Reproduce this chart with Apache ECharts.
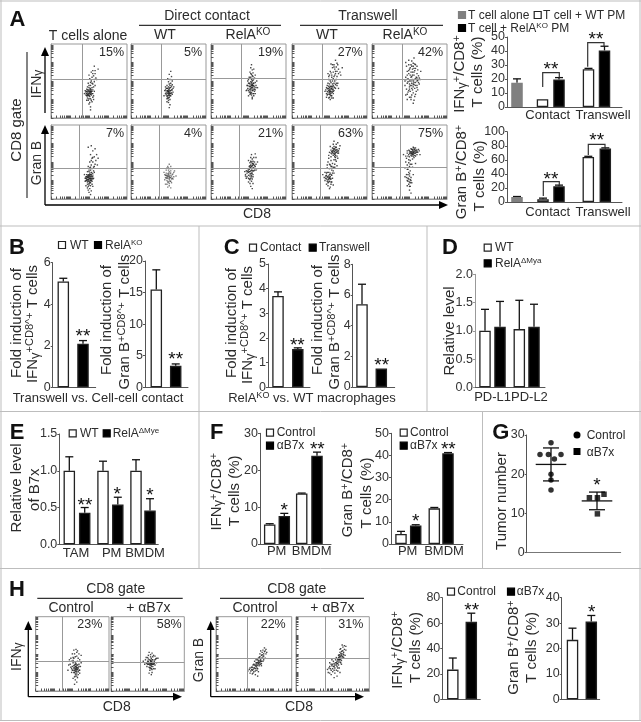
<!DOCTYPE html>
<html><head><meta charset="utf-8">
<style>html,body{margin:0;padding:0;background:#fff}#c{width:641px;height:722px}</style>
<script src="https://cdn.jsdelivr.net/npm/echarts@6/dist/echarts.min.js"></script>
</head><body><div id="c"></div>
<script>
// ---------- bar data ----------
const aIfnVals=[17.3,5.5,19.7,27,40.4], aIfnErrs=[2.8,0,1.3,0.6,3];
const aGranVals=[7,4,22.5,64,76], aGranErrs=[0.8,1.5,1.5,1,1];
const bIfnVals=[5.1,2.1], bIfnErrs=[0.15,0.15];
const bGranVals=[15.5,3.4], bGranErrs=[3.1,0.3];
const cIfnVals=[3.7,1.55], cIfnErrs=[0.17,0.05];
const cGranVals=[5.4,1.2], cGranErrs=[1.3,0];
const dVals=[1.0,1.07,1.03,1.07], dErrs=[0.38,0.45,0.51,0.4];
const eVals=[1.0,0.43,1.0,0.54,1.0,0.46], eErrs=[0.19,0.07,0.13,0.1,0.15,0.16];
const fIfnVals=[5.3,7.6,13.7,23.9], fIfnErrs=[0.2,0.7,0.1,1];
const fGranVals=[4.5,8.3,16.1,41], fGranErrs=[1.2,0.4,0.4,0.3];
const hIfnVals=[23.4,61], hIfnErrs=[9.1,6.8];
const hGranVals=[23.4,30.6], hGranErrs=[4.6,2.4];
// ---------- tumor numbers ----------
const gControl=[28,25,25,25,23.9,20,18.5,16];
const gB7x=[14,14,14.9,9.9];
const gMeans=[22.5,13.2], gSds=[4.2,2.25];
// ---------- flow cytometry events, read as % of the plot box (x,y pairs) ----------
const fA1=[51,35,49,33,52,36,50,37,53,34,48,35,52,32,50,31,54,36,47,33,49,38,51,39,53,38,46,36,55,33,48,30,51,29,50,41,54,41,47,39,52,44,55,46,49,47,56,42,53,50,51,53,57,49,54,55,50,58,56,57,53,62,58,60,55,64,59,54,52,26,49,24,54,22,50,19,52,15,48,27,46,31,45,37,57,36,58,44,60,52,62,66,57,70,52,11,55,28,50,34,52,38,48,32,51,36,53,31,
 49,36,51,33,47,36,50,30,53,36,48,38,52,34,46,34,49,31,54,33,52,40,50,44,55,38,47,30,56,30,44,33,57,52,52,48,54,47,48,42,58,64,55,60,50,26,53,24,47,24,51,21,56,25];
const fA2=[50,36,49,34,51,38,52,35,48,37,50,33,53,37,47,35,51,31,49,40,52,41,46,33,54,34,50,42,48,29,53,30,51,28,47,40,55,38,49,27,52,25,50,24,54,43,48,44,51,46,53,47,50,49,55,50,52,52,49,53,54,56,51,59,53,63,50,21,52,18,48,22,51,14,56,35,45,37,44,30,57,42,50,35,51,35,49,37,52,33,
 50,31,52,37,48,33,49,36,51,40,53,33,47,31,54,38,46,38,50,38,52,30,48,40,51,33,49,30,55,32,53,41,50,27,52,44,48,26,46,42,56,40,55,45];
const fA3=[55,45,53,43,56,47,54,48,57,44,52,46,55,41,53,40,58,42,51,43,56,51,54,52,57,39,52,38,59,48,50,47,55,37,53,35,58,36,51,35,56,33,54,31,57,30,52,32,55,28,49,40,60,44,48,44,53,55,56,56,58,54,51,55,54,59,56,61,52,62,55,65,53,68,57,66,54,72,50,52,61,50,62,41,47,37,59,33,55,26,50,30,55,44,54,46,56,42,53,49,55,50,
 54,44,56,44,52,42,57,47,53,38,55,39,51,39,58,39,49,44,54,41,52,35,56,37,50,37,54,34,59,38,60,41,48,38,57,33,53,33,51,47,57,53,49,50,55,57,53,60,59,58];
const fA4=[53,40,51,38,54,42,52,36,50,41,55,39,49,37,53,35,51,43,48,39,55,44,57,41,52,33,50,34,47,36,54,46,49,43,56,37,46,41,51,31,48,32,53,30,50,28,46,33,55,33,58,45,60,44,47,44,54,50,57,50,51,50,59,52,53,55,56,56,49,52,58,60,60,63,55,62,52,61,50,58,57,66,54,68,59,69,61,72,56,72,52,73,62,60,65,58,48,60,67,68,58,78,46,28,51,25,55,27,62,40,53,39,52,40,51,36,50,38,
 54,38,52,42,50,36,49,40,51,34,53,43,55,36,48,35,56,42,47,40,54,35,50,32,52,30,45,38,58,40,59,47,44,36,61,47,56,47,50,46,48,47,52,48,55,53,60,56,57,58,53,58,51,63,58,63,56,69,62,66,64,62,54,72,60,74,49,56,47,31,49,27,53,27];
const fA5=[55,50,53,47,57,52,52,55,56,45,50,50,58,48,54,58,51,44,59,55,48,53,55,42,53,40,57,40,50,39,60,44,47,47,61,51,49,60,52,62,56,62,60,60,54,66,50,66,58,67,47,63,62,57,45,55,55,70,52,72,49,72,57,73,60,70,46,70,53,77,49,78,56,81,45,75,51,36,55,34,48,35,59,36,46,39,53,31,57,29,50,28,45,31,61,38,52,25,56,24,47,25,55,20,63,46,44,44,65,63,
 54,52,52,50,56,48,53,44,58,53,50,46,48,49,60,50,54,62,57,64,51,68,55,74,58,72,53,70,49,64,47,58,44,50,46,52,62,48,63,54,61,65,58,44,50,42,49,37,54,38,58,32,47,32,52,28,60,41,64,52,53,56,56,58,60,54,55,46,51,58,56,67];
const fB1=[51,28,49,26,52,30,50,32,53,27,48,29,51,24,49,31,53,33,47,27,52,22,50,21,54,30,47,33,48,23,55,27,51,35,46,30,50,37,53,36,48,37,55,34,46,25,52,18,49,17,54,20,51,14,48,15,53,11,50,9,52,6,45,28,44,33,56,38,54,41,51,42,57,44,49,44,53,46,58,47,55,50,51,50,59,52,54,55,57,57,52,60,60,60,55,65,58,68,53,72,49,70,62,55,61,46,50,28,52,27,49,29,51,31,48,26,52,25,
 50,30,52,28,49,24,51,33,48,31,53,25,47,25,54,28,50,26,46,28,52,33,49,33,51,22,53,31,55,31,47,30,48,20,54,24,50,19,45,24,56,28,52,39,54,35,57,36,50,39,52,43,56,43,53,52,55,56,49,12,46,18,55,17];
const fB2=[51,30,49,28,52,32,50,33,53,29,48,31,51,26,49,34,53,35,47,28,52,24,50,23,54,31,47,35,48,25,55,28,51,37,46,32,50,39,53,38,48,20,54,22,51,18,49,16,53,15,56,34,45,26,44,36,57,30,50,42,53,44,48,42,55,41,51,47,58,38,60,31,46,20,
 50,31,52,29,49,31,51,28,48,29,50,35,52,35,47,32,54,27,46,29,53,24,55,33,49,23,51,21,56,27,45,33,57,36,47,39,52,41,49,44];
const fB3=[54,39,52,37,55,41,53,43,56,38,51,40,54,35,52,34,57,42,50,36,55,45,53,46,57,47,51,44,58,39,49,41,54,32,52,31,56,33,50,32,53,28,55,27,51,27,48,35,59,44,47,38,54,50,56,51,58,50,52,49,55,54,53,56,57,56,50,52,60,47,61,41,46,33,54,24,52,21,50,23,56,21,53,17,55,14,60,56,62,50,59,61,54,60,47,28,45,37,
 53,38,55,38,52,42,56,42,54,44,51,37,57,38,53,34,50,39,55,35,49,37,56,46,58,45,52,45,48,38,54,30,56,30,50,28,52,26,48,30,46,31,60,39,55,48,53,51,56,48];
const fB4=[57,64,55,62,58,66,56,67,59,63,54,65,57,60,55,59,60,67,53,61,58,70,56,71,61,62,52,66,54,69,60,58,58,56,52,57,62,65,50,63,63,68,55,74,59,74,51,71,56,78,64,72,61,76,52,52,56,53,59,51,49,55,54,48,57,47,51,46,60,45,48,50,55,43,50,41,53,39,47,42,46,35,50,28,48,26,51,30,49,31,52,27,47,30,50,24,53,32,46,27,48,22,51,35,45,31,53,23,49,36,44,25,47,36,52,20,48,18,51,16,46,20,54,28,43,29,56,35,41,33,55,19,50,14,
 57,62,56,65,58,62,55,65,59,66,57,68,54,63,60,64,56,61,58,59,53,64,61,65,57,57,55,68,52,62,62,62,59,70,50,29,49,27,51,27,48,29,50,33,52,33,47,24,49,23,45,28,46,32,52,23,54,35,47,46,52,44,57,43,50,47,49,59,61,55,58,53,44,36,55,38,53,44];
const fB5=[55,63,53,62,56,64,57,62,54,65,52,63,55,60,58,65,53,67,56,67,59,63,51,64,54,60,57,59,60,66,50,62,52,68,58,69,55,70,61,63,49,66,60,60,62,67,47,62,53,58,50,57,56,56,48,58,54,54,51,52,46,55,49,49,53,47,47,46,50,44,45,50,44,42,48,40,51,38,49,36,46,33,50,31,48,28,51,26,47,25,50,23,52,29,49,20,51,17,47,18,53,22,50,12,48,33,44,30,55,33,52,8,54,43,58,48,42,60,64,60,
 55,65,54,62,56,62,53,64,57,65,52,61,55,62,58,62,54,67,56,69,51,62,59,66,53,61,57,67,50,65,60,64,55,58,52,59,58,58,49,60,47,65,63,65,45,58,49,53,51,47,47,40,50,34,48,24,49,27,51,22,46,29,50,17,52,25];
const fH1=[55,30,53,28,56,32,54,33,57,29,52,31,55,26,53,35,57,35,51,28,56,24,54,23,58,31,50,33,52,25,59,28,55,37,49,30,54,39,57,40,51,38,59,36,49,25,56,20,53,19,58,22,54,15,51,17,56,12,53,9,47,36,46,42,48,44,51,45,54,46,58,44,60,42,50,50,53,50,56,52,59,50,52,55,55,56,57,54,62,48,44,28,61,33,55,31,54,29,56,29,53,31,
 55,33,57,31,54,27,56,27,53,25,58,26,52,34,55,22,50,28,59,33,56,35,54,36,48,32,51,41,49,40,60,28,52,44,56,47,57,18,54,20,45,35,62,38,60,24];
const fH2=[55,37,53,35,56,39,54,40,57,36,52,38,55,33,53,42,57,42,51,36,58,38,54,31,59,40,50,40,52,32,60,35,55,44,49,37,54,46,57,46,51,43,61,43,49,33,56,29,53,28,58,30,62,38,47,42,46,36,48,45,51,48,54,49,58,48,60,47,52,52,56,51,64,44,56,25,52,24,55,22,44,40,60,30,55,38,54,37,
 55,35,56,36,54,35,53,38,57,38,55,40,52,36,54,41,58,36,51,40,56,42,59,37,50,36,53,31,57,33,60,42,55,30,48,38,62,44,50,45];
const fH3=[56,37,54,34,57,39,55,35,58,38,53,33,56,41,52,30,59,42,54,38,50,31,57,34,51,35,60,40,48,28,55,30,59,36,53,38,47,32,52,27,61,44,57,45,50,26,62,47,60,48,55,42,46,27,63,50,58,50,61,52,64,53,62,55,59,54,66,56,64,58,67,52,49,35,45,24,48,23,44,29,52,22,56,26,60,34,63,42,42,27,55,20,51,40,65,44,
 56,39,58,41,55,38,53,36,57,36,59,40,54,31,51,31,60,44,62,44,49,29,52,34,48,32,58,46,56,44,61,49,63,47,50,36,54,28,47,29,65,54,66,50,53,42,49,24,45,31,60,37,62,40];
const fH4=[58,42,56,40,60,45,57,37,61,43,55,38,59,47,53,35,62,48,58,35,52,33,60,39,54,42,63,46,50,30,56,33,62,41,52,37,49,34,55,28,64,50,60,52,50,26,65,52,63,54,58,48,48,28,66,56,61,57,64,59,68,60,66,61,63,62,68,55,51,40,46,24,48,22,45,31,53,24,57,27,62,36,65,45,43,29,56,20,49,42,67,48,46,38,52,18,59,31,60,25,59,44,58,45,61,47,
 60,47,62,50,59,42,63,44,57,42,61,50,64,54,58,39,55,35,60,42,56,37,53,31,54,38,51,33,50,36,47,30,48,36,52,28,59,49,65,49,62,53,60,56,64,47,55,45,57,31,61,38,46,33,44,25];
// ---------- labels ----------
const percents=['15%','5%','19%','27%','42%','7%','4%','21%','63%','75%','23%','58%','22%','31%'];
const aColumns=['T cells alone','WT','RelA^KO','WT','RelA^KO'];

// ---------- layout ----------
const FONT='"Liberation Sans",Arial,sans-serif', INK='#2b2b2b', WHITE='#fff', BLACK='#000', GREY='#808080';
const flow=[
 {d:fA1,b:[51,44,76,74],g:[41,53]},{d:fA2,b:[131,44,75,74],g:[40.4,52.7]},{d:fA3,b:[211,44,75,74],g:[40,53.6]},{d:fA4,b:[292,44,75,74],g:[40.4,53]},{d:fA5,b:[372,44,75,74],g:[40.4,53]},
 {d:fB1,b:[51,125,76,74],g:[37,41.5]},{d:fB2,b:[131,125,75,74],g:[37.7,41.5],light:1},{d:fB3,b:[211,125,75,74],g:[38.3,41.5]},{d:fB4,b:[292,125,75,74],g:[37,41.5]},{d:fB5,b:[372,125,75,74],g:[37,42.8]},
 {d:fH1,b:[35.7,616.7,73.3,74.3],g:[36.3,39.4]},{d:fH2,b:[111,616.7,73.3,74.3],g:[40,38.6]},{d:fH3,b:[216,616.7,75.7,74.3],g:[41.3,44]},{d:fH4,b:[296,616.7,73.3,74.3],g:[40,44]}
];
const percentPos=[[124,52.7],[202,52.7],[283,52.7],[362.7,52.7],[443,52.7],[124,133.3],[202,133.3],[283,133.3],[363,133.3],[443,133.3],[102.3,625],[181.7,625],[285.7,625],[363.3,625]];
const W5=[GREY,WHITE,BLACK,WHITE,BLACK], WB=[WHITE,BLACK];
const bars=[
 {b:[507,37,115,70],max:50,step:10,o:[10,35.5,52,81.5,97.5],v:aIfnVals,e:aIfnErrs,f:W5},
 {b:[507,131.7,115,70.3],max:100,step:20,o:[10,36,52,81.3,98.3],v:aGranVals,e:aGranErrs,f:W5},
 {b:[52.7,262.7,43,124.6],max:6,step:2,o:[10.6,30.3],v:bIfnVals,e:bIfnErrs,f:WB},
 {b:[145,261,43,126.3],max:20,step:5,o:[11.3,30.7],v:bGranVals,e:bGranErrs,f:WB},
 {b:[268,264,42,123.3],max:5,step:1,o:[10,29.8],v:cIfnVals,e:cIfnErrs,f:WB},
 {b:[352.7,264.3,42,122.7],max:8,step:2,o:[9.3,28.6],v:cGranVals,e:cGranErrs,f:WB},
 {b:[475,274.3,70,113],max:2,step:.5,o:[10,25,44.3,59],v:dVals,e:dErrs,f:[WHITE,BLACK,WHITE,BLACK],dec:1,grey:1},
 {b:[59.3,434,99,110.3],max:1.5,step:.5,o:[10,25.4,43.7,58.5,76.7,90.7],v:eVals,e:eErrs,f:[WHITE,BLACK,WHITE,BLACK,WHITE,BLACK],dec:1},
 {b:[260,433.3,71,110.7],max:30,step:10,o:[9.7,24.3,41.7,57],v:fIfnVals,e:fIfnErrs,f:[WHITE,BLACK,WHITE,BLACK]},
 {b:[391,433.3,72,110.7],max:50,step:10,o:[10,24.7,43.3,57],v:fGranVals,e:fGranErrs,f:[WHITE,BLACK,WHITE,BLACK]},
 {b:[442.3,597.7,38,101.6],max:80,step:20,o:[10.5,29],v:hIfnVals,e:hIfnErrs,f:WB},
 {b:[561.7,597.7,38,101.6],max:40,step:10,o:[10.8,29.6],v:hGranVals,e:hGranErrs,f:WB}
];
const gBox=[526.7,435,94,117.7];
const gCtrlX=[24.3,13.3,21.7,34.3,27.7,24.3,24.3,24.3], gB7xX=[62.7,70.7,77.3,70.7], gMeanX=[24.3,70.3];

// ---------- builders ----------
const grids=[],xAxes=[],yAxes=[],series=[],gfx=[];
const logTicks=[];for(let d=0;d<4;d++)for(let k=1;k<10;k++)logTicks.push((d+Math.log10(k))*25);
function pairs(a){const o=[];for(let i=0;i<a.length;i+=2)o.push([a[i],a[i+1]]);return o;}
function addGrid(b,show){grids.push({left:b[0],top:b[1],width:b[2],height:b[3],show:!!show,borderColor:'#999',borderWidth:1,backgroundColor:'transparent'});return grids.length-1;}

flow.forEach(p=>{
 const g=addGrid(p.b,true);
 const ax={gridIndex:g,type:'value',min:0,max:100,splitLine:{show:false},axisLabel:{show:false},
  axisLine:{show:true,onZero:false,lineStyle:{color:'#999'}},axisTick:{show:true,inside:true,length:2.5,customValues:logTicks,lineStyle:{color:'#555',width:1}}};
 xAxes.push(Object.assign({},ax));yAxes.push(Object.assign({},ax));
 series.push({type:'scatter',xAxisIndex:g,yAxisIndex:g,data:pairs(p.d),symbol:'rect',symbolSize:1.4,silent:true,
  itemStyle:{color:'#1a1a1a',opacity:p.light?.55:.8},
  markLine:{silent:true,symbol:'none',animation:false,label:{show:false},lineStyle:{color:'#999',width:1,type:'solid'},data:[{xAxis:p.g[0]},{yAxis:p.g[1]}]}});
});

function errRender(capW){return function(params,api){
 const x=api.value(0),y=api.value(1),e=api.value(2);
 if(e===0)return;
 const a=api.coord([x,y]),t=api.coord([x,y+e]);
 const st={stroke:'#111',lineWidth:1.3,fill:null};
 return {type:'group',children:[
  {type:'line',shape:{x1:a[0],y1:a[1],x2:t[0],y2:t[1]},style:st},
  {type:'line',shape:{x1:t[0]-capW,y1:t[1],x2:t[0]+capW,y2:t[1]},style:st}]};
};}

bars.forEach(p=>{
 const g=addGrid(p.b,false);
 const lc=p.grey?'#999':'#555';
 xAxes.push({gridIndex:g,type:'value',min:0,max:p.b[2],splitLine:{show:false},axisLabel:{show:false},axisTick:{show:false},axisLine:{show:true,onZero:false,lineStyle:{color:'#555'}}});
 yAxes.push({gridIndex:g,type:'value',min:0,max:p.max,interval:p.step,splitLine:{show:false},
  axisLine:{show:true,onZero:false,lineStyle:{color:lc}},axisTick:{show:true,length:2,lineStyle:{color:lc}},
  axisLabel:{fontFamily:FONT,fontSize:12.5,color:'#333',margin:2,formatter:v=>p.dec?v.toFixed(p.dec):String(v)}});
 series.push({type:'bar',xAxisIndex:g,yAxisIndex:g,barWidth:11.5,silent:true,
  data:p.v.map((v,i)=>({value:[p.o[i],v],itemStyle:{color:p.f[i],borderColor:p.f[i]===GREY?GREY:'#222',borderWidth:1.3}}))});
 series.push({type:'custom',xAxisIndex:g,yAxisIndex:g,silent:true,clip:false,z:1,renderItem:errRender(4),
  data:p.v.map((v,i)=>[p.o[i],v,p.e[i]])});
});

// panel G
{
 const g=addGrid(gBox,false);
 xAxes.push({gridIndex:g,type:'value',min:0,max:gBox[2],splitLine:{show:false},axisLabel:{show:false},axisTick:{show:false},axisLine:{show:true,onZero:false,lineStyle:{color:'#777'}}});
 yAxes.push({gridIndex:g,type:'value',min:0,max:30,interval:10,splitLine:{show:false},axisLine:{show:true,onZero:false,lineStyle:{color:'#555'}},axisTick:{show:true,length:2,lineStyle:{color:'#555'}},axisLabel:{fontFamily:FONT,fontSize:12.5,color:'#333',margin:2}});
 series.push({type:'scatter',xAxisIndex:g,yAxisIndex:g,silent:true,symbol:'circle',symbolSize:5.5,itemStyle:{color:'#000'},data:gControl.map((v,i)=>[gCtrlX[i],v])});
 series.push({type:'scatter',xAxisIndex:g,yAxisIndex:g,silent:true,symbol:'rect',symbolSize:5.5,itemStyle:{color:'#000'},data:gB7x.map((v,i)=>[gB7xX[i],v])});
 series.push({type:'custom',xAxisIndex:g,yAxisIndex:g,silent:true,clip:false,
  data:gMeans.map((m,i)=>[gMeanX[i],m,gSds[i]]),
  renderItem(params,api){
   const x=api.value(0),m=api.value(1),s=api.value(2);
   const c=api.coord([x,m]),t=api.coord([x,m+s]),b=api.coord([x,m-s]);
   const st={stroke:'#111',lineWidth:1.3,fill:null};
   const ln=(x1,y1,x2,y2)=>({type:'line',shape:{x1,y1,x2,y2},style:st});
   return {type:'group',children:[ln(t[0],t[1],b[0],b[1]),ln(c[0]-15.3,c[1],c[0]+15.3,c[1]),ln(t[0]-8,t[1],t[0]+8,t[1]),ln(b[0]-8,b[1],b[0]+8,b[1])]};
  }});
}

// ---------- graphic helpers ----------
function rich(s){return s.replace(/\^([^\s\/]+)/g,'{s|$1}');}
function T(x,y,s,o){o=o||{};const fs=o.fs||14;
 const hasSup=/\^|\{/.test(s);
 const richMap={s:{fontSize:Math.round(fs*.7),fontFamily:FONT,fill:INK,verticalAlign:'top',lineHeight:fs+2},
  g:{fontSize:Math.round(fs*.85),fontFamily:FONT,fill:INK,verticalAlign:'bottom',lineHeight:fs+2}};
 const st={text:hasSup?rich(s):s,fontSize:fs,fontFamily:FONT,fontWeight:o.w||'normal',fill:o.c||INK,align:o.a||'center',verticalAlign:'middle',lineHeight:fs+2};
 if(hasSup)st.rich=richMap;
 gfx.push({type:'text',x,y,rotation:o.r?Math.PI/2:0,silent:true,style:st,z:50});
}
function R(x,y,s,fs){T(x,y,s,{fs:fs||15,r:1});}
function L(pts,c,w){gfx.push({type:'polyline',silent:true,z:40,shape:{points:pts},style:{stroke:c||'#333',lineWidth:w||1.2,fill:null}});}
function Sq(x,y,fill,stroke){gfx.push({type:'rect',silent:true,z:40,shape:{x:x-3.5,y:y-3.5,width:7,height:7},style:{fill,stroke:stroke||'#222',lineWidth:1.2}});}
function Head(x,y,dir){const s=4,l=9;const pts=dir==='u'?[[x-s,y+l],[x+s,y+l],[x,y]]:[[x-l,y-s],[x-l,y+s],[x,y]];gfx.push({type:'polygon',silent:true,z:41,shape:{points:pts},style:{fill:'#000'}});}
function Stars(x,y,s){T(x,y+4,s,{fs:19,c:'#111'});}
function Panel(x,y,s){T(x,y,s,{fs:22,w:'bold',c:'#111'});}
const LG=12;

// frame
const FR='#bdbdbd';
[[[0,1],[641,1]],[[0,226],[641,226]],[[0,411.5],[641,411.5]],[[0,568.5],[641,568.5]],[[0,720.5],[641,720.5]],
 [[1,0],[1,721]],[[640,0],[640,721]],[[199,226],[199,568.5]],[[427,226],[427,411.5]],[[482.5,411.5],[482.5,568.5]]].forEach(l=>L(l,FR,1));

// Panel A
Panel(17.5,20,'A');
T(207,15.7,'Direct contact');T(368,15.7,'Transwell');
L([[139,25.3],[281,25.3]],'#333');L([[300,25.3],[443,25.3]],'#333');
[[88,36],[165,35.5],[248,35.5],[327,35.5],[405,35.5]].forEach((p,i)=>T(p[0],p[1],aColumns[i]));
percentPos.forEach((p,i)=>T(p[0],p[1],percents[i],{fs:12.5,a:'right'}));
L([[45,113],[45,52]],'#000',1.3);Head(45,47,'u');
L([[45,205],[45,130]],'#000',1.3);Head(45,125,'u');
L([[45,205],[442,205]],'#000',1.3);Head(448,205,'r');
L([[27,52],[27,198]],'#333');
R(17,130,'CD8 gate');
R(37,84,'IFN{g|γ}',14);R(37,163,'Gran B',14);T(257,214.5,'CD8');
Sq(462,15,GREY,GREY);T(468,15.5,'T cell alone',{fs:LG,a:'left'});
Sq(537.7,15,WHITE);T(543,15.5,'T cell + WT PM',{fs:LG,a:'left'});
Sq(462,28,BLACK,BLACK);T(468,28.5,'T cell + RelA^KO PM',{fs:LG,a:'left'});
R(460,74,'IFN{g|γ}^+/CD8^+');R(478,72,'T cells (%)');
R(462,172,'Gran B^+/CD8^+');R(480,176,'T cells (%)');
L([[542.7,87],[542.7,72.7],[559.3,72.7],[559.3,77.3]]);Stars(551,66,'**');
L([[587.7,66.7],[587.7,42.7],[604,42.7],[604,46]]);Stars(596,36,'**');
L([[543.3,196],[543.3,181.7],[559.3,181.7],[559.3,185]]);Stars(551,176,'**');
L([[588.3,155],[588.3,144.3],[605,144.3],[605,147.7]]);Stars(596.7,137,'**');
T(547.7,115.7,'Contact',{fs:13});T(603,115.7,'Transwell',{fs:13});
T(547.7,212,'Contact',{fs:13});T(603,212,'Transwell',{fs:13});

// Panel B
Panel(17,248,'B');
Sq(62,245,WHITE);T(70,245.5,'WT',{fs:LG,a:'left'});
Sq(98,245,BLACK,BLACK);T(105,245.5,'RelA^KO',{fs:LG,a:'left'});
R(17,323,'Fold induction of');R(33,324,'IFN{g|γ}^+CD8^+ T cells');
R(106.7,320,'Fold induction of');R(125,322,'Gran B^+CD8^+ T cells');
Stars(83,332.7,'**');Stars(175.7,356,'**');
T(98,398.3,'Transwell vs. Cell-cell contact',{fs:13});

// Panel C
Panel(231.7,248,'C');
Sq(253,247.7,WHITE);T(260,248,'Contact',{fs:LG,a:'left'});
Sq(312.7,247.7,BLACK,BLACK);T(319,248,'Transwell',{fs:LG,a:'left'});
R(231.7,323,'Fold induction of');R(248.3,325,'IFN{g|γ}^+CD8^+ T cells');
R(318,320,'Fold induction of');R(335,322,'Gran B^+CD8^+ T cells');
Stars(297.3,342,'**');Stars(381.7,362,'**');
T(312,398.3,'RelA^KO vs. WT macrophages',{fs:13});

// Panel D
Panel(450,248,'D');
Sq(487.7,247.7,WHITE);T(495,248,'WT',{fs:LG,a:'left'});
Sq(487.7,263.3,BLACK,BLACK);T(495,263.5,'RelA^ΔMya',{fs:LG,a:'left'});
R(450,331,'Relative level');
T(511,397,'PD-L1PD-L2',{fs:13});

// Panel E
Panel(17,433,'E');
Sq(72.7,433.3,WHITE);T(80,433.5,'WT',{fs:LG,a:'left'});
Sq(106.7,433.3,BLACK,BLACK);T(112.7,433.5,'RelA^ΔMye',{fs:LG,a:'left'});
R(16.7,488,'Relative level');R(35,489.7,'of B7x');
Stars(85,501.7,'**');Stars(117.3,491,'*');Stars(150,491.5,'*');
T(76,553.3,'TAM',{fs:13});T(111.7,553.3,'PM',{fs:13});T(145,553.3,'BMDM',{fs:13});

// Panel F
Panel(216.7,433,'F');
Sq(270,432.7,WHITE);T(276.7,433,'Control',{fs:LG,a:'left'});
Sq(270,445.7,BLACK,BLACK);T(276.7,446,'αB7x',{fs:LG,a:'left'});
Sq(403.7,432.7,WHITE);T(410,433,'Control',{fs:LG,a:'left'});
Sq(403.7,445.7,BLACK,BLACK);T(410,446,'αB7x',{fs:LG,a:'left'});
R(216.7,491.7,'IFN{g|γ}^+/CD8^+');R(235,490.8,'T cells (%)');
R(348,490,'Gran B^+/CD8^+');R(366.7,493,'T cells (%)');
Stars(284.3,506.5,'*');Stars(317.3,445.7,'**');Stars(415.7,517.5,'*');Stars(448.3,445.7,'**');
T(276.7,551.7,'PM',{fs:13});T(311.7,551.7,'BMDM',{fs:13});T(407.7,551.7,'PM',{fs:13});T(444,551.7,'BMDM',{fs:13});

// Panel G
Panel(500.7,433,'G');
gfx.push({type:'circle',silent:true,z:40,shape:{cx:577,cy:435,r:3.5},style:{fill:'#000'}});
gfx.push({type:'rect',silent:true,z:40,shape:{x:573.5,y:448,width:7,height:7},style:{fill:'#000'}});
T(586.7,436,'Control',{fs:LG,a:'left'});T(586.7,453,'αB7x',{fs:LG,a:'left'});
R(501.7,501,'Tumor number');Stars(597,482,'*');

// Panel H
Panel(17,590,'H');
T(115.7,589,'CD8 gate');T(296.7,589,'CD8 gate');
L([[37.3,598.3],[182.7,598.3]],'#333');L([[220,598.3],[364,598.3]],'#333');
T(71,608.5,'Control');T(148.3,608.5,'+ αB7x');T(255,608.5,'Control');T(332.3,608.5,'+ αB7x');
L([[28.3,696.7],[28.3,626]],'#000',1.3);Head(28.3,621,'u');L([[28.3,696.7],[176,696.7]],'#000',1.3);Head(182,696.7,'r');
L([[210.7,696.7],[210.7,626]],'#000',1.3);Head(210.7,621,'u');L([[210.7,696.7],[358,696.7]],'#000',1.3);Head(364,696.7,'r');
R(16.7,656.7,'IFN{g|γ}',14);R(199.3,660,'Gran B',14);
T(116.7,706.7,'CD8');T(299,706.7,'CD8');
Sq(451,591.7,WHITE);T(457.3,592,'Control',{fs:LG,a:'left'});
Sq(511,591.7,BLACK,BLACK);T(516.7,592,'αB7x',{fs:LG,a:'left'});
R(398,650,'IFN{g|γ}^+/CD8^+');R(415.7,647.5,'T cells (%)');
R(514.3,647.5,'Gran B^+/CD8^+');R(532.3,647.5,'T cells (%)');
Stars(471.7,606.7,'**');Stars(591.7,608.5,'*');

const chart=echarts.init(document.getElementById('c'),null,{renderer:'canvas'});
chart.setOption({animation:false,backgroundColor:'#fff',grid:grids,xAxis:xAxes,yAxis:yAxes,series,graphic:{elements:gfx}});
</script></body></html>
